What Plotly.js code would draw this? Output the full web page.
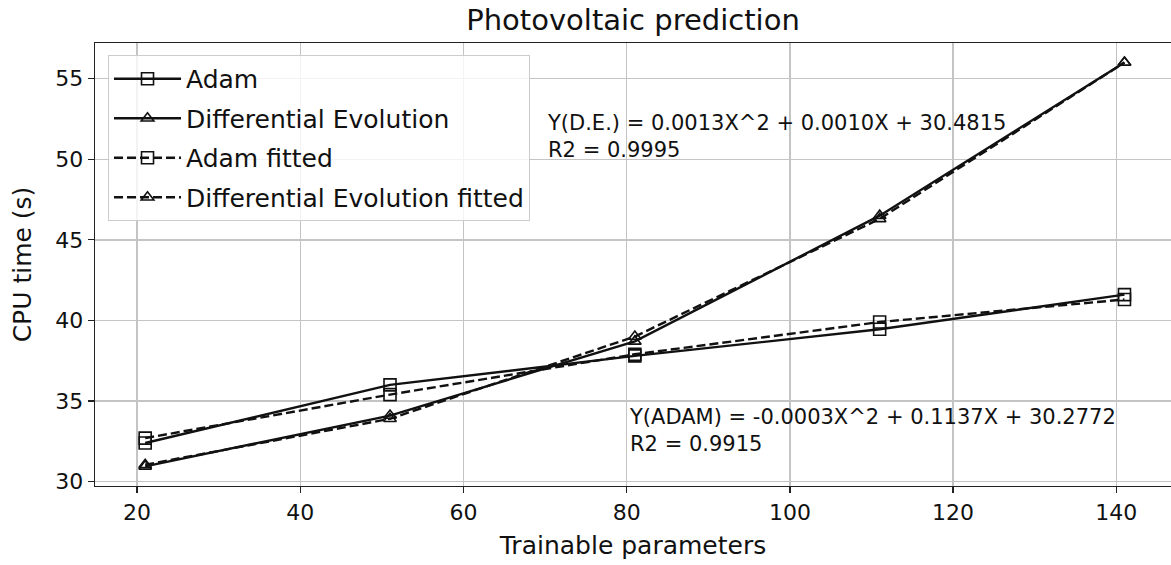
<!DOCTYPE html>
<html>
<head>
<meta charset="utf-8">
<script src="https://cdn.plot.ly/plotly-3.0.1.min.js"></script>
<style>
  html, body { margin: 0; padding: 0; background: #ffffff; }
  #chart { width: 1171px; height: 565px; }
</style>
</head>
<body>
<div id="chart"></div>
<script>
// ---- data ----
const trainableParams = [21, 51, 81, 111, 141];
const adamTime        = [32.4, 36.0, 37.8, 39.45, 41.6];
const deTime          = [30.95, 34.1, 38.7, 46.5, 56.0];
const adamFitted      = [32.7, 35.4, 37.9, 39.9, 41.3];
const deFitted        = [31.05, 33.9, 39.0, 46.3, 56.0];

const seriesNames = ["Adam", "Differential Evolution", "Adam fitted", "Differential Evolution fitted"];
const eqDE   = "Y(D.E.) = 0.0013X^2 + 0.0010X + 30.4815";
const r2DE   = "R2 = 0.9995";
const eqADAM = "Y(ADAM) = -0.0003X^2 + 0.1137X + 30.2772";
const r2ADAM = "R2 = 0.9915";

const FONT = "DejaVu Sans, sans-serif";
const INK = "#111111";

function trace(y, name, symbol, size, dash, group) {
  return {
    x: trainableParams, y: y, name: name, type: "scatter", mode: "lines+markers",
    legendgroup: group,
    line: { color: INK, width: 2.4, dash: dash },
    marker: { symbol: symbol, size: size, color: INK, line: { width: 1.6, color: INK } }
  };
}

const data = [
  trace(adamTime,   seriesNames[0], "square-open",      12, "solid",     "g1"),
  trace(deTime,     seriesNames[1], "triangle-up-open", 11, "solid",     "g2"),
  trace(adamFitted, seriesNames[2], "square-open",      12, "9px,4px",   "g3"),
  trace(deFitted,   seriesNames[3], "triangle-up-open", 11, "9px,4px",   "g4")
];

const axisCommon = {
  showline: true, mirror: true, linecolor: "#222222", linewidth: 1.3,
  showgrid: true, gridcolor: "#c4c4c4", gridwidth: 1.4,
  zeroline: false,
  ticks: "outside", ticklen: 6, tickwidth: 1.3, tickcolor: "#222222",
  tickfont: { family: FONT, size: 22, color: INK }
};

const layout = {
  width: 1171, height: 565,
  margin: { l: 95, r: 0, t: 43, b: 79 },
  paper_bgcolor: "#ffffff", plot_bgcolor: "#ffffff",
  font: { family: FONT, color: INK },
  title: {
    text: "Photovoltaic prediction",
    font: { family: FONT, size: 29, color: INK },
    x: 0.5, xref: "paper", xanchor: "center",
    y: 0.964, yref: "container", yanchor: "middle"
  },
  xaxis: Object.assign({}, axisCommon, {
    range: [14.85, 146.7],
    tickvals: [20, 40, 60, 80, 100, 120, 140],
    title: { text: "Trainable parameters", font: { family: FONT, size: 25, color: INK }, standoff: 12 }
  }),
  yaxis: Object.assign({}, axisCommon, {
    range: [29.73, 57.21],
    tickvals: [30, 35, 40, 45, 50, 55],
    title: { text: "CPU time (s)", font: { family: FONT, size: 25, color: INK }, standoff: 16 }
  }),
  showlegend: true,
  legend: {
    x: 0.0121, y: 0.973, xanchor: "left", yanchor: "top",
    bgcolor: "rgba(255,255,255,0.8)", bordercolor: "#cccccc", borderwidth: 1,
    font: { family: FONT, size: 25, color: INK },
    traceorder: "grouped", tracegroupgap: 4, itemwidth: 67
  },
  annotations: [
    { x: 70, y: 51.40, xref: "x", yref: "y", xanchor: "left", yanchor: "middle", align: "left",
      text: eqDE + "<br>" + r2DE, showarrow: false, font: { family: FONT, size: 21, color: INK } },
    { x: 80, y: 33.19, xref: "x", yref: "y", xanchor: "left", yanchor: "middle", align: "left",
      text: eqADAM + "<br>" + r2ADAM, showarrow: false, font: { family: FONT, size: 21, color: INK } }
  ]
};

Plotly.newPlot("chart", data, layout, { displayModeBar: false, staticPlot: true });
</script>
</body>
</html>
